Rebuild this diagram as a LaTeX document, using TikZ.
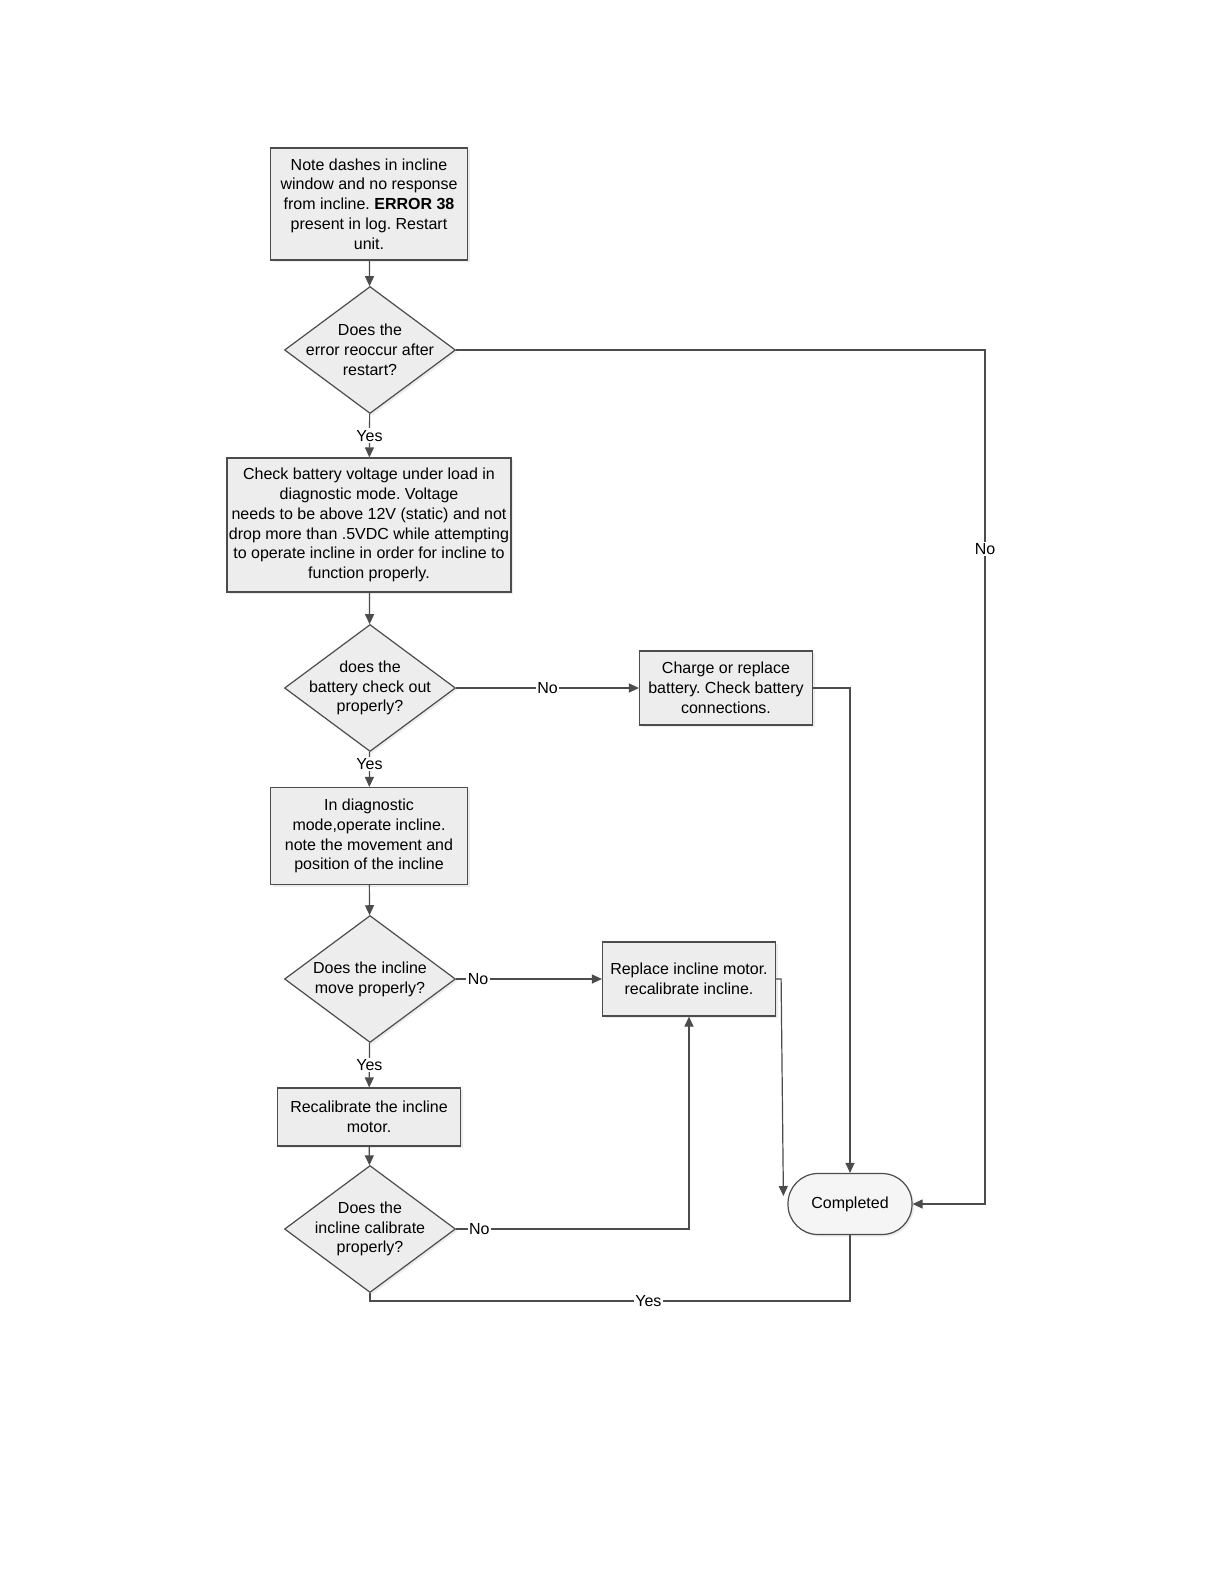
\documentclass[tikz,border=0pt]{standalone}
\usepackage{fontspec}
\setmainfont{Liberation Sans}
\usetikzlibrary{shapes.geometric,arrows.meta,shadows}
\begin{document}
\frenchspacing
\begin{tikzpicture}[x=0.5pt,y=-0.5pt,
  font=\fontsize{8}{9.9}\selectfont,
  proc/.style={draw=black!70, fill=black!7, line width=0.6pt, align=center, inner sep=1pt,
    drop shadow={opacity=0.15, shadow xshift=1pt, shadow yshift=-1pt}},
  dec/.style={diamond, draw=black!70, fill=black!7, line width=0.6pt, inner sep=0pt,
    minimum width=85.5pt, minimum height=63.5pt,
    drop shadow={opacity=0.15, shadow xshift=1pt, shadow yshift=-1pt}},
  term/.style={draw=black!70, fill=black!4, line width=0.6pt, rounded corners=15pt, align=center,
    minimum width=62pt, minimum height=30.5pt,
    drop shadow={opacity=0.15, shadow xshift=1pt, shadow yshift=-1pt}},
  conn/.style={draw=black!70, line width=0.6pt},
  arr/.style={conn, -{Triangle[length=5pt,width=4.5pt]}},
  lbl/.style={fill=white, inner sep=0.8pt}
]
\useasboundingbox[fill=white] (0,0) rectangle (1224,1584);

\node[proc, minimum width=98.5pt, minimum height=56pt] (b1) at (369,204)
  {Note dashes in incline\\window and no response\\from incline. \textbf{ERROR 38}\\present in log. Restart\\unit.};
\node[dec, label={[align=center]center:{Does the\\error reoccur after\\restart?}}] (d1) at (370,350) {};
\node[proc, minimum width=142pt, minimum height=67pt] (b2) at (369,525)
  {Check battery voltage under load in\\diagnostic mode. Voltage\\needs to be above 12V (static) and not\\drop more than .5VDC while attempting\\to operate incline in order for incline to\\function properly.};
\node[dec, label={[align=center]center:{does the\\battery check out\\properly?}}] (d2) at (370,688) {};
\node[proc, minimum width=98.5pt, minimum height=48.5pt] (b3) at (369,836)
  {In diagnostic\\mode,operate incline.\\note the movement and\\position of the incline};
\node[dec, label={[align=center]center:{Does the incline\\move properly?}}] (d3) at (370,979) {};
\node[proc, minimum width=91.5pt, minimum height=29pt] (b4) at (369,1117)
  {Recalibrate the incline\\motor.};
\node[dec, label={[align=center]center:{Does the\\incline calibrate\\properly?}}] (d4) at (370,1229) {};
\node[proc, minimum width=86.5pt, minimum height=37pt] (chg) at (726,688)
  {Charge or replace\\battery. Check battery\\connections.};
\node[proc, minimum width=86.5pt, minimum height=37pt] (rep) at (689,979)
  {Replace incline motor.\\recalibrate incline.};
\node[term] (comp) at (850,1204) {Completed};

\coordinate (rx) at (985,0);
\coordinate (by) at (0,1301);

\draw[arr] (b1) -- (d1);
\draw[arr] (d1) -- node[lbl]{Yes} (b2);
\draw[arr] (b2) -- (d2);
\draw[arr] (d2) -- node[lbl,pos=0.35]{Yes} (b3);
\draw[arr] (b3) -- (d3);
\draw[arr] (d3) -- node[lbl]{Yes} (b4);
\draw[arr] (b4) -- (d4);

\draw[arr] (d1.east) -- (d1.east -| rx) -- node[lbl,pos=0.233]{No} (comp.east -| rx) -- (comp.east);
\draw[arr] (d2.east) -- node[lbl]{No} (chg.west);
\draw[arr] (chg.east) -- (chg.east -| comp.north) -- (comp.north);
\draw[arr] (d3.east) -- node[lbl,pos=0.15]{No} (rep.west);
\draw[arr] (rep.east) -- ++(5,0) -- ([shift={(-4,-8)}]comp.west);
\draw[arr] (d4.east) -- node[lbl,pos=0.1]{No} (d4.east -| rep.south) -- (rep.south);
\draw[conn] (d4.south) -- (d4.south |- by) -- node[lbl,pos=0.58]{Yes} (comp.south |- by) -- (comp.south);
\end{tikzpicture}
\end{document}
